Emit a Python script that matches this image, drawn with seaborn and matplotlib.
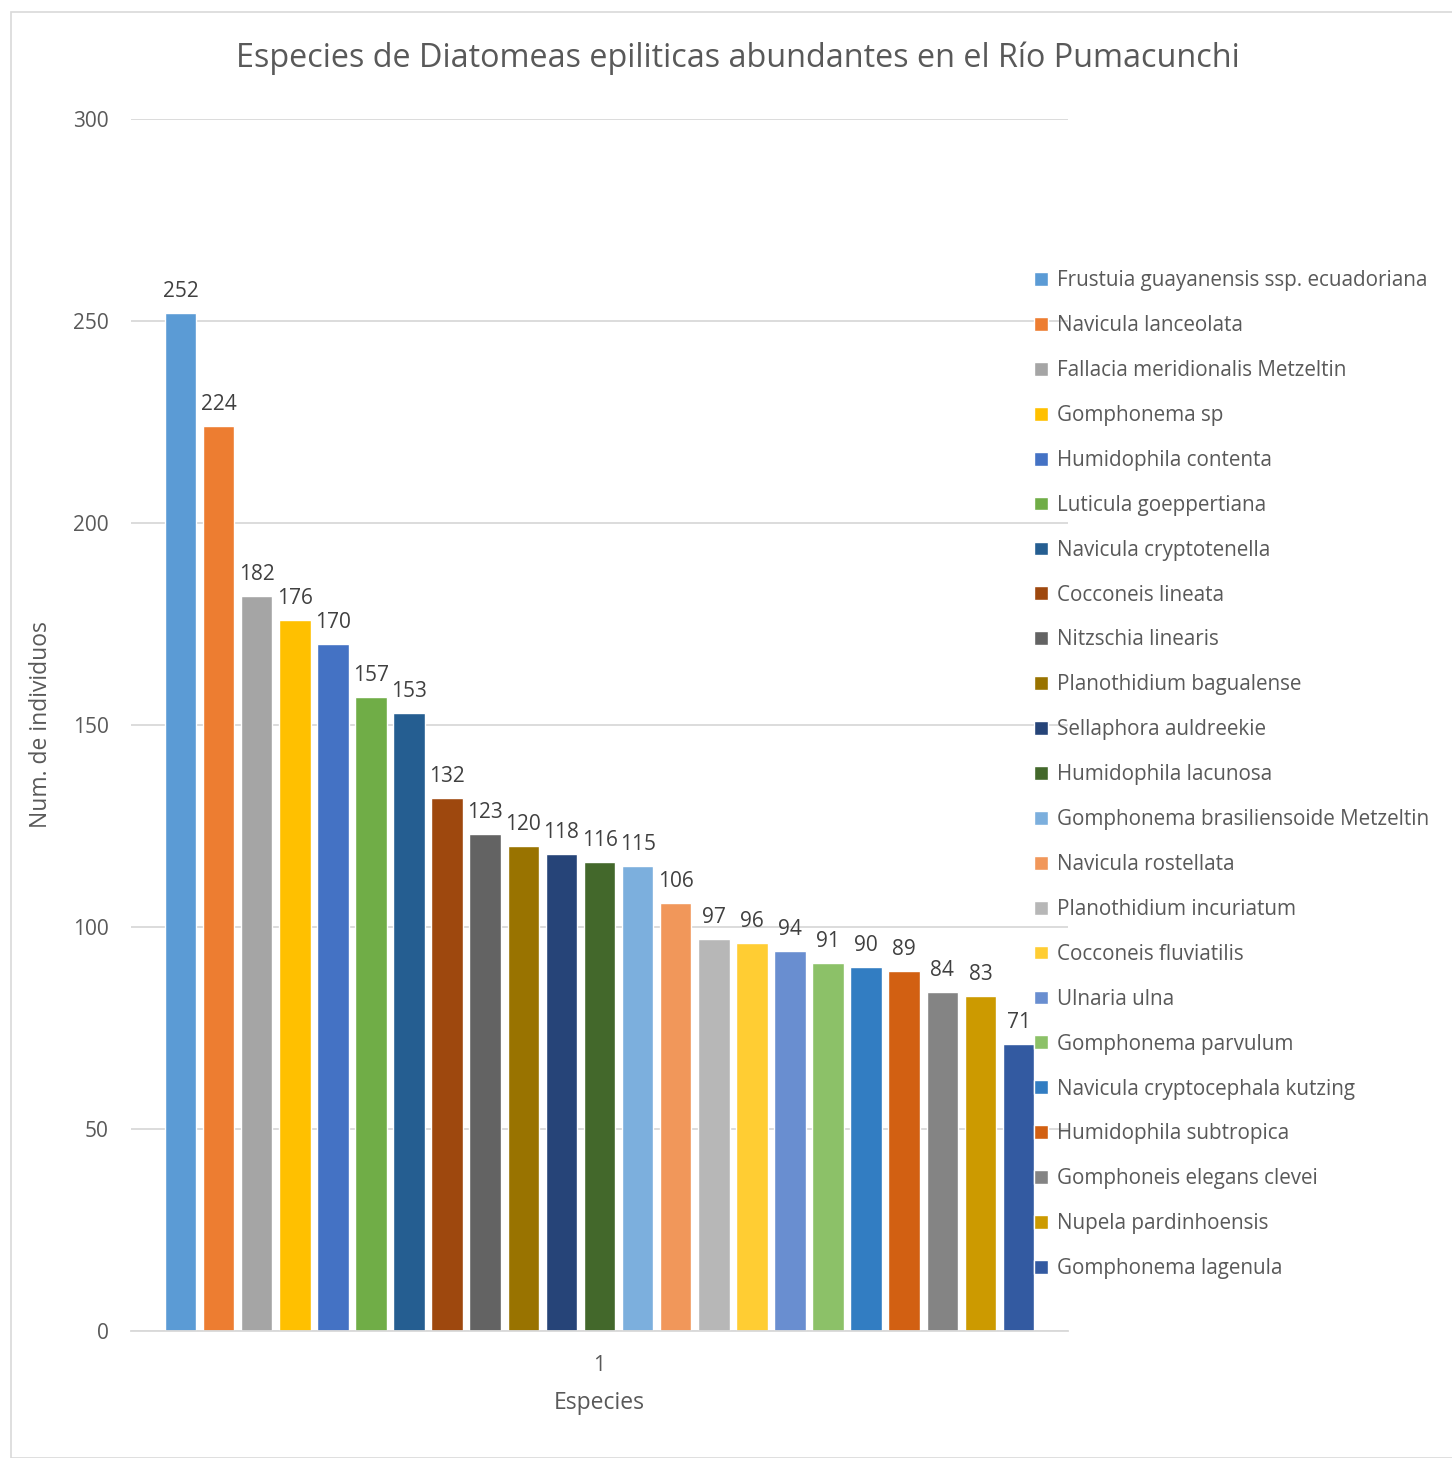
import pandas as pd
import matplotlib
matplotlib.use("Agg")
import matplotlib.pyplot as plt
import seaborn as sns
from matplotlib.patches import Rectangle

sns.set_theme(style="white")
plt.rcParams["font.family"] = ["Open Sans", "DejaVu Sans"]

# data
especies = [
    "Frustuia guayanensis ssp. ecuadoriana", "Navicula lanceolata",
    "Fallacia meridionalis Metzeltin", "Gomphonema sp", "Humidophila contenta",
    "Luticula goeppertiana", "Navicula cryptotenella", "Cocconeis lineata",
    "Nitzschia linearis", "Planothidium bagualense", "Sellaphora auldreekie",
    "Humidophila lacunosa", "Gomphonema brasiliensoide Metzeltin",
    "Navicula rostellata", "Planothidium incuriatum", "Cocconeis fluviatilis",
    "Ulnaria ulna", "Gomphonema parvulum", "Navicula cryptocephala kutzing",
    "Humidophila subtropica", "Gomphoneis elegans clevei",
    "Nupela pardinhoensis", "Gomphonema lagenula",
]
individuos = [252, 224, 182, 176, 170, 157, 153, 132, 123, 120, 118, 116, 115,
              106, 97, 96, 94, 91, 90, 89, 84, 83, 71]
colores = ["#5B9BD5", "#ED7D31", "#A5A5A5", "#FFC000", "#4472C4", "#70AD47",
           "#255E91", "#9E480E", "#636363", "#997300", "#264478", "#43682B",
           "#7CAFDD", "#F1975A", "#B7B7B7", "#FFCD33", "#698ED0", "#8CC168",
           "#327DC2", "#D26012", "#848484", "#CC9A00", "#335AA1"]
categoria = ["1"] * len(especies)

df = pd.DataFrame({"cat": categoria, "especie": especies, "n": individuos})

texto = "#595959"
grid = "#D9D9D9"

fig = plt.figure(figsize=(14.52, 14.58), dpi=100)
ax = fig.add_axes([131 / 1452, 1 - 1331 / 1458, (1068 - 131) / 1452, (1331 - 119) / 1458])

sns.barplot(data=df, x="cat", y="n", hue="especie", hue_order=especies,
            palette=colores, width=0.935, gap=0.17, saturation=1, ax=ax)

for c in ax.containers:
    ax.bar_label(c, padding=8, fontsize=15, color="#404040")

ax.set_ylim(0, 300)
ax.set_yticks([0, 50, 100, 150, 200, 250, 300])
ax.yaxis.grid(True, color=grid, linewidth=1.3)
ax.set_axisbelow(True)
for s in ["top", "right", "left"]:
    ax.spines[s].set_visible(False)
ax.spines["bottom"].set_color(grid)
ax.spines["bottom"].set_linewidth(1.3)
ax.tick_params(axis="both", length=0, labelsize=15, colors=texto)
ax.tick_params(axis="y", pad=16)
ax.tick_params(axis="x", pad=17)

ax.set_xlabel("Especies", fontsize=16.5, color=texto, labelpad=11)
ax.set_ylabel("Num. de individuos", fontsize=16.5, color=texto, labelpad=14)

handles, labels = ax.get_legend_handles_labels()
ax.get_legend().remove()
fig.legend(handles, labels, loc="upper left",
           bbox_to_anchor=(1026 / 1452, 1 - 262 / 1458), frameon=False,
           fontsize=14.9, labelcolor=texto, handlelength=0.65, handleheight=0.65,
           handletextpad=0.45, labelspacing=1.155, borderaxespad=0)

fig.text(738 / 1452, 1 - 58 / 1458, "Especies de Diatomeas epiliticas abundantes en el Río Pumacunchi",
         ha="center", va="center", fontsize=23.3, color=texto)

fig.patches.append(Rectangle((11 / 1452, 0), 1.2, 1 - 12 / 1458, transform=fig.transFigure,
                             fill=False, edgecolor=grid, linewidth=1.2))

fig.savefig("out.png", dpi=100)
